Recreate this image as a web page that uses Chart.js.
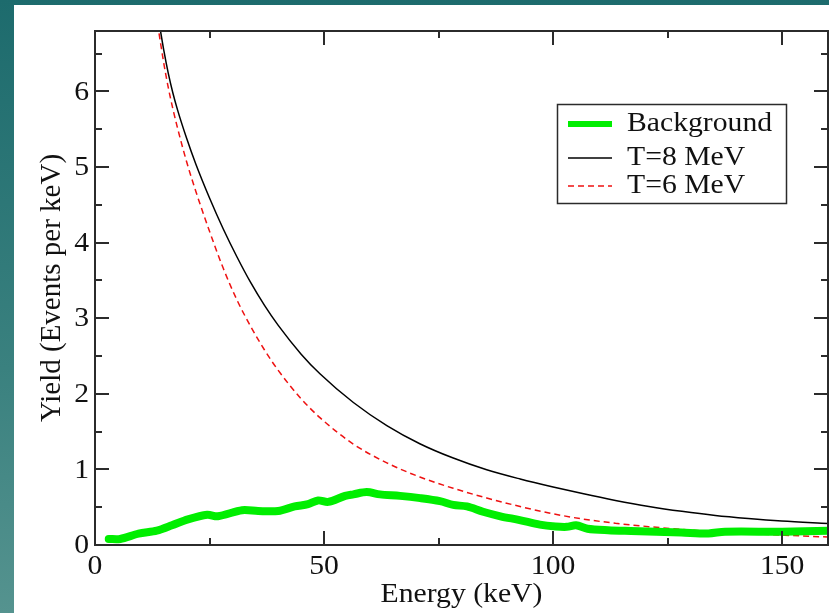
<!DOCTYPE html>
<html>
<head>
<meta charset="utf-8">
<script src="https://cdn.jsdelivr.net/npm/chart.js@4/dist/chart.umd.min.js"></script>
<style>
    html, body { margin: 0; padding: 0; }
    body {
        width: 829px; height: 613px; position: relative; overflow: hidden;
        background: linear-gradient(180deg, #1d6b6d 0%, #3a817f 60%, #55938f 100%);
    }
    #sheet { position: absolute; left: 14px; top: 5px; right: 0; bottom: 0; background: #ffffff; }
    #yieldChart { position: absolute; left: 0; top: 0; }
</style>
</head>
<body>
<div id="sheet"></div>
<canvas id="yieldChart" width="829" height="613"></canvas>
<script>
// Background spectrum
const bgEnergy = [3, 5.5, 9.5, 13.5, 16.8, 20.3, 24.5, 26.8, 32.1, 35.6, 40, 43.6, 46.5, 48.7, 50.9, 54.6, 56.4, 59.3, 62.2, 66.6, 71, 75.3, 78.2, 81.2, 84.7, 88.5, 92.7, 97.1, 100.5, 103, 105, 107.5, 112, 117, 128, 133.9, 137.5, 150, 160];
const bgYield  = [0.08, 0.08, 0.15, 0.19, 0.26, 0.34, 0.40, 0.38, 0.46, 0.45, 0.45, 0.51, 0.54, 0.59, 0.57, 0.65, 0.67, 0.70, 0.67, 0.65, 0.62, 0.58, 0.53, 0.51, 0.44, 0.38, 0.33, 0.27, 0.245, 0.24, 0.26, 0.215, 0.195, 0.185, 0.165, 0.153, 0.176, 0.176, 0.187];

// T=8 MeV curve
const t8Energy = [13.6, 14.3, 15, 16, 17, 18, 20, 22, 25, 28, 31, 34, 37, 40, 45, 49.1, 56.4, 63.7, 70.9, 78.2, 85.5, 92.8, 100, 106.4, 113.6, 120.9, 128.1, 135.4, 142.6, 149.9, 160];
const t8Yield  = [7.05, 6.8, 6.55, 6.24, 5.98, 5.76, 5.38, 5.04, 4.59, 4.18, 3.81, 3.47, 3.17, 2.905, 2.525, 2.265, 1.885, 1.58, 1.34, 1.15, 0.995, 0.873, 0.767, 0.68, 0.59, 0.51, 0.445, 0.39, 0.35, 0.317, 0.285];

// T=6 MeV curve
const t6Energy = [13.3, 13.9, 15, 16, 17, 18, 20, 22, 25, 28, 31, 34, 37, 40, 45, 49.1, 56.4, 63.7, 70.9, 78.2, 85.5, 92.8, 99.1, 106.4, 113.6, 120.9, 128.1, 135.4, 142.6, 149.9, 160];
const t6Yield  = [7.03, 6.8, 6.38, 6.05, 5.77, 5.52, 5.07, 4.68, 4.15, 3.66, 3.24, 2.89, 2.58, 2.31, 1.935, 1.685, 1.335, 1.087, 0.90, 0.75, 0.622, 0.509, 0.424, 0.344, 0.288, 0.243, 0.207, 0.176, 0.151, 0.131, 0.106];

const seriesLabels = ['Background', 'T=8 MeV', 'T=6 MeV'];

// axes
const xMin = 0, xMax = 160;
const yMin = 0, yMax = 6.8;
const xMajorTicks = [0, 50, 100, 150];
const xMinorTicks = [25, 75, 125];
const yMajorTicks = [0, 1, 2, 3, 4, 5, 6];
const yMinorTicks = [0.5, 1.5, 2.5, 3.5, 4.5, 5.5, 6.5];
const xTitle = 'Energy (keV)';
const yTitle = 'Yield (Events per keV)';

const FONT = '"Liberation Serif", "DejaVu Serif", serif';
const INK = '#2b2b2b';

function toPoints(xs, ys) {
    return xs.map((x, i) => ({ x: x, y: ys[i] }));
}

// text is slightly wider than tall in the original, so stretch it a bit
function drawText(ctx, text, x, y, align, baseline, size, sx) {
    ctx.save();
    ctx.translate(x, y);
    ctx.scale(sx || 1.1, 1);
    ctx.font = size + 'px ' + FONT;
    ctx.fillStyle = '#111';
    ctx.textAlign = align;
    ctx.textBaseline = baseline;
    ctx.fillText(text, 0, 0);
    ctx.restore();
}

// frame, inward ticks, labels and the boxed legend
const framePlugin = {
    id: 'xmgraceFrame',
    afterDatasetsDraw(chart) {
        const { ctx, chartArea: a, scales } = chart;
        const xs = scales.x, ys = scales.y;

        ctx.save();
        ctx.strokeStyle = INK;
        ctx.lineWidth = 2;
        ctx.strokeRect(a.left, a.top, a.right - a.left, a.bottom - a.top);

        ctx.beginPath();
        const tickX = (v, len) => {
            const px = Math.round(xs.getPixelForValue(v));
            ctx.moveTo(px, a.bottom); ctx.lineTo(px, a.bottom - len);
            ctx.moveTo(px, a.top); ctx.lineTo(px, a.top + len);
        };
        const tickY = (v, len) => {
            const py = Math.round(ys.getPixelForValue(v));
            ctx.moveTo(a.left, py); ctx.lineTo(a.left + len, py);
            ctx.moveTo(a.right, py); ctx.lineTo(a.right - len, py);
        };
        xMajorTicks.forEach(v => tickX(v, 14));
        xMinorTicks.forEach(v => tickX(v, 7));
        yMajorTicks.forEach(v => tickY(v, 14));
        yMinorTicks.forEach(v => tickY(v, 7));
        ctx.stroke();
        ctx.restore();

        // tick labels
        xMajorTicks.forEach(v => drawText(ctx, String(v), xs.getPixelForValue(v), a.bottom + 22, 'center', 'middle', 27));
        yMajorTicks.forEach(v => drawText(ctx, String(v), a.left - 6, ys.getPixelForValue(v) + 1, 'right', 'middle', 27));

        // axis titles
        drawText(ctx, xTitle, (a.left + a.right) / 2, a.bottom + 50, 'center', 'middle', 27);
        ctx.save();
        ctx.translate(52, (a.top + a.bottom) / 2);
        ctx.rotate(-Math.PI / 2);
        drawText(ctx, yTitle, 0, 0, 'center', 'middle', 29, 1);
        ctx.restore();

        // legend box
        const box = { x: 557, y: 104, w: 229, h: 99 };
        ctx.save();
        ctx.fillStyle = '#fff';
        ctx.fillRect(box.x, box.y, box.w, box.h);
        ctx.strokeStyle = INK;
        ctx.lineWidth = 1.5;
        ctx.strokeRect(box.x + 0.5, box.y + 0.5, box.w, box.h);
        ctx.restore();

        const rows = [124, 158, 186];
        chart.data.datasets.forEach((ds, i) => {
            ctx.save();
            ctx.strokeStyle = ds.borderColor;
            ctx.lineWidth = Math.min(ds.borderWidth, 6);
            ctx.setLineDash(ds.borderDash || []);
            ctx.beginPath();
            ctx.moveTo(568, rows[i]);
            ctx.lineTo(612, rows[i]);
            ctx.stroke();
            ctx.restore();
            drawText(ctx, ds.label, 627, rows[i], 'left', 'middle', 27);
        });
    }
};

new Chart(document.getElementById('yieldChart').getContext('2d'), {
    type: 'line',
    data: {
        datasets: [
            {
                label: seriesLabels[0],
                data: toPoints(bgEnergy, bgYield),
                borderColor: '#00ee00',
                borderWidth: 8,
                tension: 0.3,
                pointRadius: 0,
                borderCapStyle: 'round',
                borderJoinStyle: 'round'
            },
            {
                label: seriesLabels[1],
                data: toPoints(t8Energy, t8Yield),
                borderColor: '#000000',
                borderWidth: 1.5,
                cubicInterpolationMode: 'monotone',
                pointRadius: 0
            },
            {
                label: seriesLabels[2],
                data: toPoints(t6Energy, t6Yield),
                borderColor: '#ee1111',
                borderWidth: 1.5,
                borderDash: [6, 4],
                cubicInterpolationMode: 'monotone',
                pointRadius: 0
            }
        ]
    },
    options: {
        responsive: false,
        animation: false,
        layout: { padding: { left: 95, top: 31, right: 1, bottom: 68 } },
        plugins: { legend: { display: false }, tooltip: { enabled: false } },
        scales: {
            x: { type: 'linear', min: xMin, max: xMax, display: false },
            y: { type: 'linear', min: yMin, max: yMax, display: false }
        }
    },
    plugins: [framePlugin]
});
</script>
</body>
</html>
